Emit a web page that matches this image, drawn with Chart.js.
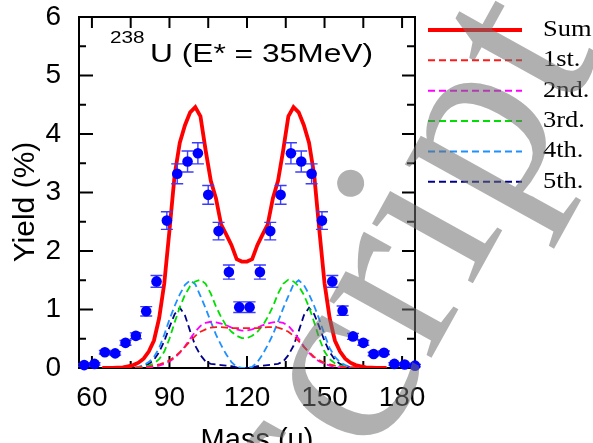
<!DOCTYPE html>
<html lang="en">
<head>
  <meta charset="UTF-8">
  <title>238U yield</title>
  <script src="https://cdn.jsdelivr.net/npm/chart.js"></script>
  <style>
    body { margin: 0; background: #fff; }
    #wrap { width: 593px; height: 443px; }
  </style>
</head>
<body>
  <div id="wrap"><canvas id="yieldChart" width="593" height="443"></canvas></div>

  <script>
    // measured yields with error bars
    const expMass = [57, 61, 65, 69, 73, 77, 81, 85, 89, 93, 97, 101, 105, 109, 113, 117,
                     121, 125, 129, 133, 137, 141, 145, 149, 153, 157, 161, 165, 169, 173, 177, 181, 185];
    const expYield = [0.05, 0.07, 0.27, 0.25, 0.43, 0.55, 0.97, 1.48, 2.52, 3.32, 3.53, 3.67, 2.96, 2.34, 1.64, 1.04,
                      1.04, 1.64, 2.34, 2.96, 3.67, 3.53, 3.32, 2.52, 1.48, 0.98, 0.54, 0.43, 0.24, 0.26, 0.07, 0.06, 0.04];
    const expErr = [0.02, 0.02, 0.03, 0.03, 0.04, 0.05, 0.08, 0.1, 0.15, 0.17, 0.18, 0.18, 0.16, 0.15, 0.12, 0.09,
                    0.09, 0.12, 0.15, 0.16, 0.18, 0.18, 0.17, 0.15, 0.1, 0.08, 0.05, 0.04, 0.03, 0.03, 0.02, 0.02, 0.02];

    // calculated curves
    const calcMass = [64, 66, 68, 70, 72, 74, 76, 78, 80, 82, 84, 86, 88, 90, 92, 94, 96, 98, 100, 102, 104, 106, 108, 110, 112, 114, 116, 118,
                      120, 122, 124, 126, 128, 130, 132, 134, 136, 138, 140, 142, 144, 146, 148, 150, 152, 154, 156, 158, 160, 162, 164, 166, 168, 170, 172, 174];
    const sumYield = [0, 0, 0, 0.005, 0.01, 0.03, 0.05, 0.09, 0.16, 0.28, 0.47, 0.85, 1.45, 2.35, 3.3, 3.85, 4.15, 4.37, 4.46, 4.3, 3.72, 3.2, 2.9, 2.45, 2.28, 2.1, 1.86, 1.82,
                      1.82, 1.86, 2.1, 2.28, 2.45, 2.9, 3.2, 3.72, 4.3, 4.46, 4.37, 4.15, 3.85, 3.3, 2.35, 1.45, 0.85, 0.47, 0.28, 0.16, 0.09, 0.05, 0.03, 0.01, 0.005, 0, 0, 0];
    const firstYield = [0, 0, 0, 0, 0, 0, 0.005, 0.01, 0.015, 0.025, 0.04, 0.06, 0.09, 0.13, 0.19, 0.27, 0.36, 0.46, 0.55, 0.62, 0.66, 0.69, 0.7, 0.7, 0.69, 0.68, 0.68, 0.68,
                        0.68, 0.68, 0.68, 0.69, 0.7, 0.7, 0.69, 0.66, 0.62, 0.55, 0.46, 0.36, 0.27, 0.19, 0.13, 0.09, 0.06, 0.04, 0.025, 0.015, 0.01, 0.005, 0, 0, 0, 0, 0, 0];
    const secondYield = [0, 0, 0, 0, 0, 0, 0, 0, 0.005, 0.01, 0.02, 0.04, 0.07, 0.11, 0.17, 0.26, 0.37, 0.5, 0.62, 0.72, 0.77, 0.79, 0.78, 0.76, 0.73, 0.69, 0.66, 0.64,
                         0.64, 0.66, 0.69, 0.73, 0.76, 0.78, 0.79, 0.77, 0.72, 0.62, 0.5, 0.37, 0.26, 0.17, 0.11, 0.07, 0.04, 0.02, 0.01, 0.005, 0, 0, 0, 0, 0, 0, 0, 0];
    const thirdYield = [0, 0, 0, 0, 0, 0, 0, 0.01, 0.02, 0.04, 0.08, 0.15, 0.28, 0.5, 0.78, 1.04, 1.25, 1.4, 1.48, 1.51, 1.44, 1.27, 1.05, 0.87, 0.72, 0.62, 0.55, 0.51,
                        0.51, 0.55, 0.62, 0.72, 0.87, 1.05, 1.27, 1.44, 1.51, 1.48, 1.4, 1.25, 1.04, 0.78, 0.5, 0.28, 0.15, 0.08, 0.04, 0.02, 0.01, 0, 0, 0, 0, 0, 0, 0];
    const fourthYield = [0, 0, 0, 0, 0, 0, 0.01, 0.02, 0.05, 0.1, 0.19, 0.34, 0.57, 0.83, 1.06, 1.26, 1.42, 1.5, 1.43, 1.23, 1.02, 0.79, 0.57, 0.39, 0.23, 0.1, 0.02, 0,
                         0, 0.02, 0.1, 0.23, 0.39, 0.57, 0.79, 1.02, 1.23, 1.43, 1.5, 1.42, 1.26, 1.06, 0.83, 0.57, 0.34, 0.19, 0.1, 0.05, 0.02, 0.01, 0, 0, 0, 0, 0, 0];
    const fifthYield = [0, 0, 0, 0, 0, 0, 0, 0.01, 0.03, 0.07, 0.14, 0.27, 0.46, 0.7, 0.92, 1.03, 0.9, 0.63, 0.38, 0.22, 0.11, 0.07, 0.06, 0.05, 0.04, 0.03, 0.01, 0,
                        0, 0.01, 0.03, 0.04, 0.05, 0.06, 0.07, 0.11, 0.22, 0.38, 0.63, 0.9, 1.03, 0.92, 0.7, 0.46, 0.27, 0.14, 0.07, 0.03, 0.01, 0, 0, 0, 0, 0, 0, 0];

    const seriesNames = ['Sum', '1st.', '2nd.', '3rd.', '4th.', '5th.'];
    const seriesColors = ['#ff0000', '#ff1a1a', '#ff00ff', '#00e000', '#1e90ff', '#00008b'];
    const xTickLabels = [60, 90, 120, 150, 180];
    const xMinorTicks = [75, 105, 135, 165];
    const yTickLabels = [0, 1, 2, 3, 4, 5, 6];
    const yMinorTicks = [0.5, 1.5, 2.5, 3.5, 4.5, 5.5];

    const toXY = (xs, ys) => xs.map((x, i) => ({ x: x, y: ys[i] }));
    const sans = 'Liberation Sans, Arial, sans-serif';

    // box, inward ticks on all four sides
    const framePlugin = {
      id: 'frame',
      beforeDatasetsDraw(chart) {
        const { ctx, chartArea: a, scales: { x, y } } = chart;
        ctx.save();
        ctx.strokeStyle = '#000';
        ctx.lineWidth = 2;
        ctx.strokeRect(a.left, a.top, a.right - a.left, a.bottom - a.top);
        ctx.beginPath();
        xTickLabels.concat(xMinorTicks).forEach(v => {
          const px = x.getPixelForValue(v);
          const major = xTickLabels.includes(v);
          ctx.moveTo(px, a.bottom); ctx.lineTo(px, a.bottom - (major ? 12 : 7));
          ctx.moveTo(px, a.top); ctx.lineTo(px, a.top + 11);
        });
        yTickLabels.concat(yMinorTicks).forEach(v => {
          const py = y.getPixelForValue(v);
          const major = yTickLabels.includes(v);
          ctx.moveTo(a.left, py); ctx.lineTo(a.left + (major ? 14 : 7), py);
          ctx.moveTo(a.right, py); ctx.lineTo(a.right - (major ? 13 : 8), py);
        });
        ctx.stroke();
        ctx.restore();
      }
    };

    // error bars under the measured points
    const errorBars = {
      id: 'errorBars',
      beforeDatasetDraw(chart, args) {
        if (args.index !== 0) return;
        const { ctx, scales: { x, y } } = chart;
        ctx.save();
        ctx.strokeStyle = '#3c3cff';
        ctx.lineWidth = 1.4;
        ctx.beginPath();
        expMass.forEach((m, i) => {
          const px = x.getPixelForValue(m);
          const top = y.getPixelForValue(expYield[i] + expErr[i]);
          const bot = y.getPixelForValue(expYield[i] - expErr[i]);
          ctx.moveTo(px, top); ctx.lineTo(px, bot);
          ctx.moveTo(px - 6, top); ctx.lineTo(px + 6, top);
          ctx.moveTo(px - 6, bot); ctx.lineTo(px + 6, bot);
        });
        ctx.stroke();
        ctx.restore();
      }
    };

    // legend to the right of the box, titles and labels
    const textPlugin = {
      id: 'texts',
      afterDatasetsDraw(chart) {
        const { ctx } = chart;
        const sets = chart.data.datasets.slice(1);
        ctx.save();
        sets.forEach((ds, i) => {
          const yy = 30 + i * 30.35;
          ctx.strokeStyle = ds.borderColor;
          ctx.lineWidth = i === 0 ? 4 : 2;
          ctx.setLineDash(ds.borderDash || []);
          ctx.beginPath();
          ctx.moveTo(428, yy); ctx.lineTo(522, yy);
          ctx.stroke();
          ctx.setLineDash([]);
          ctx.save();
          ctx.translate(543, yy);
          ctx.scale(1.15, 1);
          ctx.fillStyle = '#000';
          ctx.font = '23px "Liberation Serif", "Times New Roman", serif';
          ctx.textBaseline = 'middle';
          ctx.textAlign = 'left';
          ctx.fillText(ds.label, 0, 0);
          ctx.restore();
        });

        // panel title
        ctx.fillStyle = '#000';
        ctx.textBaseline = 'alphabetic';
        ctx.save();
        ctx.translate(110, 43);
        ctx.scale(1.22, 1);
        ctx.font = '17px ' + sans;
        ctx.fillText('238', 0, 0);
        ctx.restore();
        ctx.save();
        ctx.translate(150, 62);
        ctx.scale(1.22, 1);
        ctx.font = '26px ' + sans;
        ctx.fillText('U (E* = 35MeV)', 0, 0);
        ctx.restore();

        // axis titles
        ctx.font = '29px ' + sans;
        ctx.textAlign = 'center';
        ctx.fillText('Mass (u)', 257, 449);
        ctx.save();
        ctx.translate(33.5, 202);
        ctx.rotate(-Math.PI / 2);
        ctx.font = '30px ' + sans;
        ctx.fillText('Yield (%)', 0, 0);
        ctx.restore();
        ctx.restore();
      }
    };

    // grey diagonal manuscript stamp on top
    const stampPlugin = {
      id: 'stamp',
      afterDraw(chart) {
        const { ctx } = chart;
        ctx.save();
        ctx.translate(326, 548);
        ctx.rotate(-61 * Math.PI / 180);
        ctx.font = '255px "Liberation Serif", serif';
        ctx.fillStyle = 'rgba(112, 112, 112, 0.55)';
        ctx.textBaseline = 'alphabetic';
        ctx.fillText('script', 0, 0);
        ctx.restore();
      }
    };

    function curve(idx, ys) {
      return {
        label: seriesNames[idx],
        data: toXY(calcMass, ys),
        borderColor: seriesColors[idx],
        borderWidth: idx === 0 ? 3.8 : 1.8,
        borderDash: idx === 0 ? [] : [7, 4],
        pointRadius: 0,
        fill: false,
        tension: 0,
        order: idx + 1
      };
    }

    const ctx = document.getElementById('yieldChart').getContext('2d');
    new Chart(ctx, {
      type: 'line',
      data: {
        datasets: [
          {
            label: 'exp',
            data: toXY(expMass, expYield),
            showLine: false,
            pointRadius: 5.3,
            pointBackgroundColor: '#0000ff',
            pointBorderWidth: 0,
            clip: false,
            order: 0
          },
          curve(0, sumYield),
          curve(1, firstYield),
          curve(2, secondYield),
          curve(3, thirdYield),
          curve(4, fourthYield),
          curve(5, fifthYield)
        ]
      },
      options: {
        responsive: false,
        animation: false,
        devicePixelRatio: 1,
        layout: { padding: { top: 17, right: 178, left: 0, bottom: 0 } },
        plugins: { legend: { display: false }, tooltip: { enabled: false } },
        scales: {
          x: {
            type: 'linear',
            min: 55,
            max: 185,
            grid: { display: false },
            border: { display: false },
            afterBuildTicks: s => { s.ticks = xTickLabels.map(v => ({ value: v })); },
            afterFit: s => { s.height = 75; s.paddingLeft = 0; s.paddingRight = 0; },
            ticks: { color: '#000', font: { family: sans, size: 28 }, padding: 5, maxRotation: 0, autoSkip: false }
          },
          y: {
            min: 0,
            max: 6,
            grid: { display: false },
            border: { display: false },
            afterBuildTicks: s => { s.ticks = yTickLabels.map(v => ({ value: v })); },
            afterFit: s => { s.width = 79; s.paddingTop = 0; s.paddingBottom = 0; },
            ticks: { color: '#000', font: { family: sans, size: 28 }, padding: 10 }
          }
        }
      },
      plugins: [framePlugin, errorBars, textPlugin, stampPlugin]
    });
  </script>
</body>
</html>
